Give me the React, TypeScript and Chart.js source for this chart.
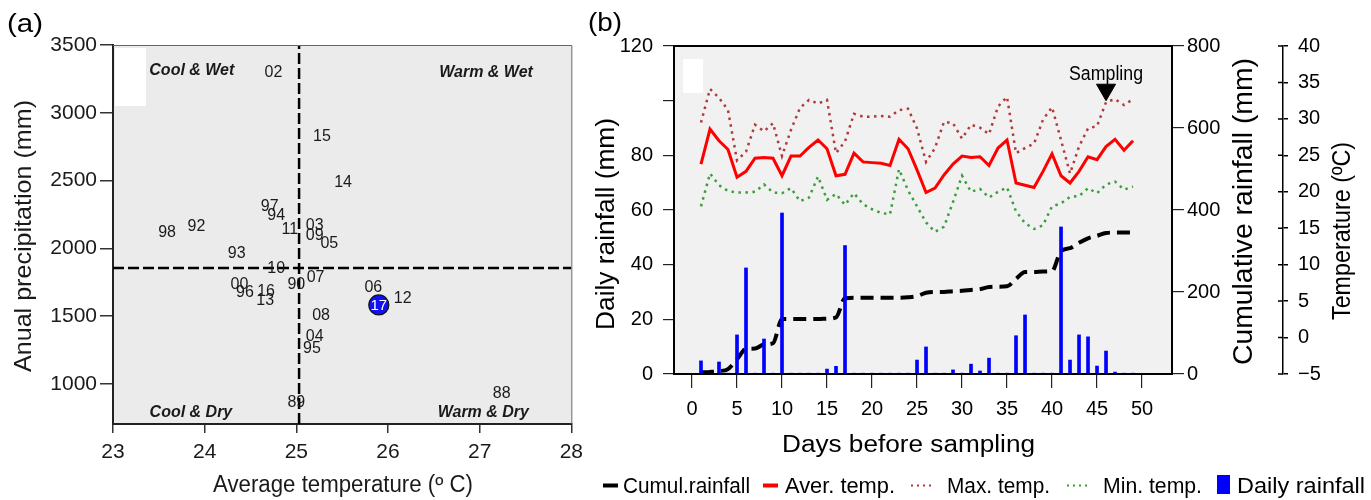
import React, { useEffect, useRef } from 'react';
import { Chart, registerables } from 'chart.js';

Chart.register(...registerables);

const FONT = "'Liberation Sans', Arial, Helvetica, sans-serif";
Chart.defaults.font.family = FONT;

// ---------------- Panel (a) data ----------------
const yearLabels = ['02', '15', '14', '97', '94', '98', '92', '11', '03', '09', '05', '93', '10', '07', '00', '96', '16', '13', '90', '06', '12', '08', '04', '95', '89', '88'];
const yearTemps = [24.75, 25.28, 25.51, 24.71, 24.78, 23.59, 23.91, 24.93, 25.2, 25.2, 25.36, 24.35, 24.78, 25.21, 24.38, 24.44, 24.67, 24.66, 25.0, 25.84, 26.16, 25.27, 25.2, 25.17, 25.0, 27.24];
const yearPrecip = [3293, 2822, 2482, 2305, 2239, 2113, 2158, 2136, 2165, 2091, 2032, 1959, 1848, 1782, 1730, 1671, 1678, 1612, 1730, 1708, 1627, 1501, 1347, 1258, 860, 926];
const highlightLabel = ['17'];
const highlightTemp = [25.9];
const highlightPrecip = [1583];
const splitTemp = 25.03;
const splitPrecip = 1855;
const quadrantNames = ['Cool & Wet', 'Warm & Wet', 'Cool & Dry', 'Warm & Dry'];
const quadrantTemps = [23.86, 27.07, 23.85, 27.04];
const quadrantPrecip = [3310, 3300, 790, 790];
const tempTicksA = [23, 24, 25, 26, 27, 28];
const precipTicksA = [1000, 1500, 2000, 2500, 3000, 3500];
const tempRangeA = [23, 28];
const precipRangeA = [705, 3500];

// ---------------- Panel (b) data ----------------
const days = [1, 2, 3, 4, 5, 6, 7, 8, 9, 10, 11, 12, 13, 14, 15, 16, 17, 18, 19, 20, 21, 22, 23, 24, 25, 26, 27, 28, 29, 30, 31, 32, 33, 34, 35, 36, 37, 38, 39, 40, 41, 42, 43, 44, 45, 46, 47, 48, 49];
const avgTemp = [23.8, 28.6, 27.0, 25.8, 22.0, 22.8, 24.6, 24.7, 24.6, 22.2, 24.9, 24.9, 26.1, 27.1, 25.9, 22.2, 22.4, 25.3, 24.1, 24.0, 23.9, 23.6, 27.2, 25.9, 23.0, 19.9, 20.5, 22.3, 23.8, 24.9, 24.7, 24.8, 23.6, 26.0, 27.1, 21.2, 20.9, 20.6, 22.8, 25.2, 22.2, 21.2, 22.8, 24.8, 24.4, 26.2, 27.2, 25.7, 27.0];
const maxTemp = [29.5, 34.1, 32.9, 31.2, 24.3, 25.5, 29.2, 28.3, 29.4, 24.9, 28.5, 31.5, 32.6, 32.1, 32.6, 25.3, 26.9, 30.7, 30.3, 30.3, 30.4, 30.3, 31.2, 31.4, 28.7, 24.1, 26.0, 29.6, 29.4, 27.3, 29.2, 28.8, 27.9, 31.7, 33.0, 25.3, 26.0, 26.6, 29.9, 31.6, 27.1, 22.5, 26.2, 28.7, 29.0, 32.3, 32.7, 31.9, 32.7];
const minTemp = [18.0, 22.5, 20.9, 20.1, 19.9, 19.9, 20.0, 21.0, 19.9, 19.8, 20.5, 18.7, 19.2, 22.1, 18.9, 19.7, 18.2, 19.8, 18.3, 17.6, 17.1, 16.9, 23.1, 20.2, 18.0, 15.8, 14.5, 15.2, 18.6, 22.2, 20.0, 20.4, 19.2, 20.0, 20.6, 17.3, 15.7, 14.9, 15.4, 18.0, 18.4, 19.3, 19.4, 20.5, 19.8, 21.0, 21.4, 20.3, 20.7];
const cumRain = [4, 5, 7, 12, 36, 61, 62, 72, 75, 134, 134, 134, 134, 134, 135, 138, 185, 186, 186, 186, 186, 186, 186, 187, 190, 198, 200, 200, 202, 203, 205, 207, 212, 213, 214, 232, 249, 249, 250, 251, 300, 307, 320, 331, 337, 344, 345, 345, 345];
const rainMm = [4.8, 0.3, 4.4, 0.3, 14.3, 38.8, 0.3, 12.8, 0.3, 58.9, 0.3, 0.3, 0.3, 0.3, 1.8, 2.8, 47, 0.3, 0.3, 0.3, 0.3, 0.3, 0.3, 0.3, 5.1, 9.9, 0.3, 0.3, 1.5, 0.3, 3.6, 1.1, 5.8, 0.3, 0.3, 14, 21.6, 0.3, 0.3, 0.3, 53.8, 5.1, 14.3, 13.6, 2.9, 8.4, 0.7, 0.3, 0.3];
const dayTicks = [0, 5, 10, 15, 20, 25, 30, 35, 40, 45, 50];
const dayRange = [-2, 53.33];
const rainTicks = [0, 20, 40, 60, 80, 100, 120];
const hiddenRainTick = 100;
const cumTicks = [0, 200, 400, 600, 800];
const tempTicksB = [-5, 0, 5, 10, 15, 20, 25, 30, 35, 40];
const samplingDay = [46];
const samplingMark = [104];
const legendOrder = ['Cumul.rainfall', 'Aver. temp.', 'Max. temp.', 'Min. temp.', 'Daily rainfall'];

type TextOpts = {
  size: number; weight?: string; style?: string; color?: string; width?: number;
  rotate?: number; align?: CanvasTextAlign; baseline?: CanvasTextBaseline;
};

function drawText(ctx: CanvasRenderingContext2D, text: string, x: number, y: number, o: TextOpts) {
  ctx.save();
  ctx.font = `${o.style ?? 'normal'} ${o.weight ?? 'normal'} ${o.size}px ${FONT}`;
  ctx.fillStyle = o.color ?? '#000';
  ctx.textAlign = o.align ?? 'center';
  ctx.textBaseline = o.baseline ?? 'middle';
  ctx.translate(x, y);
  if (o.rotate) ctx.rotate(o.rotate);
  if (o.width) {
    const w = ctx.measureText(text).width;
    if (w > 0) ctx.scale(o.width / w, 1);
  }
  ctx.fillText(text, 0, 0);
  ctx.restore();
}

const setTicks = (vals: number[]) => (scale: any) => {
  scale.ticks = vals.map((v) => ({ value: v }));
};

const fmt = (v: any) => (Number(v) < 0 ? '\u2212' + String(Math.abs(Number(v))) : String(v));

// ---------------- Panel (a) plugin ----------------
const panelAPlugin = {
  id: 'panelA',
  beforeDraw(chart: any) {
    const { ctx, chartArea: ca } = chart;
    ctx.save();
    ctx.fillStyle = '#ebebeb';
    ctx.fillRect(ca.left, ca.top, ca.right - ca.left, ca.bottom - ca.top);
    ctx.fillStyle = '#ffffff';
    ctx.fillRect(ca.left + 2, ca.top + 3, 31, 58);
    ctx.restore();
  },
  afterDatasetsDraw(chart: any) {
    const ctx = chart.ctx;
    chart.getDatasetMeta(0).data.forEach((pt: any, i: number) => {
      drawText(ctx, yearLabels[i], pt.x, pt.y, { size: 16, color: '#1a1a1a' });
    });
    chart.getDatasetMeta(1).data.forEach((pt: any, i: number) => {
      drawText(ctx, highlightLabel[i], pt.x, pt.y + 0.5, { size: 15, color: '#ffffff' });
    });
    const xs = chart.scales.x;
    const ys = chart.scales.y;
    quadrantNames.forEach((q, i) => {
      drawText(ctx, q, xs.getPixelForValue(quadrantTemps[i]), ys.getPixelForValue(quadrantPrecip[i]), {
        size: 16, weight: 'bold', style: 'italic', color: '#1a1a1a',
      });
    });
  },
  afterDraw(chart: any) {
    const { ctx, chartArea: ca } = chart;
    ctx.save();
    ctx.strokeStyle = '#666';
    ctx.lineWidth = 1;
    ctx.beginPath();
    ctx.moveTo(ca.left, ca.top + 0.5);
    ctx.lineTo(ca.right + 0.5, ca.top + 0.5);
    ctx.lineTo(ca.right + 0.5, ca.bottom);
    ctx.stroke();
    ctx.restore();
    drawText(ctx, 'Anual precipitation (mm)', 24, 236, { size: 24, rotate: -Math.PI / 2, width: 272, color: '#1a1a1a' });
    drawText(ctx, 'Average temperature (º C)', 343, 492, { size: 23, baseline: 'alphabetic', width: 260, color: '#1a1a1a' });
    drawText(ctx, '(a)', 7, 31.5, { size: 26, baseline: 'alphabetic', align: 'left', width: 36, color: '#000' });
  },
};

// ---------------- Panel (b) plugin ----------------
const legendSlots = [
  { sx: 23, sw: 15, tx: 43, tw: 127 },
  { sx: 183, sw: 15, tx: 205, tw: 110 },
  { sx: 331, sw: 23, tx: 367, tw: 103 },
  { sx: 487, sw: 23, tx: 523, tw: 99 },
  { sx: 637, sw: 13, tx: 657, tw: 128 },
];

const panelBPlugin = {
  id: 'panelB',
  beforeDraw(chart: any) {
    const { ctx, chartArea: ca } = chart;
    ctx.save();
    ctx.fillStyle = '#f1f1f1';
    ctx.fillRect(ca.left, ca.top, ca.right - ca.left, ca.bottom - ca.top);
    ctx.fillStyle = '#ffffff';
    ctx.fillRect(ca.left + 9, ca.top + 13, 20, 34);
    ctx.restore();
  },
  afterDraw(chart: any) {
    const { ctx, chartArea: ca } = chart;
    ctx.save();
    ctx.strokeStyle = '#000';
    ctx.lineWidth = 2;
    ctx.strokeRect(ca.left, ca.top, ca.right - ca.left, ca.bottom - ca.top);
    // crossing ticks on the temperature axis
    const ts = chart.scales.yTemp;
    ctx.lineWidth = 1.5;
    ctx.beginPath();
    ts.ticks.forEach((t: any) => {
      const py = ts.getPixelForValue(t.value);
      ctx.moveTo(ts.left - 5, py);
      ctx.lineTo(ts.left, py);
    });
    ctx.stroke();
    ctx.restore();

    const cs = chart.scales.yCum;
    drawText(ctx, 'Daily rainfall (mm)', 27, 224, { size: 26, rotate: -Math.PI / 2, width: 212 });
    drawText(ctx, 'Cumulative rainfall (mm)', cs.left + 72.5, 211.5, { size: 27, rotate: -Math.PI / 2, width: 307 });
    drawText(ctx, 'Temperature (ºC)', ts.left + 60.5, 231, { size: 25, rotate: -Math.PI / 2, width: 178 });
    drawText(ctx, 'Days before sampling', 328.5, 452, { size: 23, baseline: 'alphabetic', width: 253 });
    drawText(ctx, '(b)', 8, 31, { size: 26, baseline: 'alphabetic', align: 'left', width: 34 });

    // sampling label above marker
    const mk = chart.getDatasetMeta(0).data[0];
    if (mk) drawText(ctx, 'Sampling', mk.x, mk.y - 9.5, { size: 20, baseline: 'alphabetic', width: 74 });

    // legend
    const ly = 485.5;
    legendOrder.forEach((label, i) => {
      const ds: any = chart.data.datasets.find((d: any) => d.label === label);
      const slot = legendSlots[i];
      if (!ds) return;
      ctx.save();
      if (ds.type === 'bar') {
        ctx.fillStyle = ds.backgroundColor;
        ctx.fillRect(slot.sx, 475, slot.sw, 19);
      } else {
        const dotted = Array.isArray(ds.borderDash) && ds.borderDash.length > 0 && ds.borderDash[0] < 5;
        ctx.strokeStyle = ds.borderColor;
        ctx.lineWidth = dotted ? 2 : 4;
        ctx.setLineDash(dotted ? [2, 4] : []);
        ctx.beginPath();
        ctx.moveTo(slot.sx, ly);
        ctx.lineTo(slot.sx + slot.sw, ly);
        ctx.stroke();
      }
      ctx.restore();
      drawText(ctx, label, slot.tx, 492.5, { size: 22, baseline: 'alphabetic', align: 'left', width: slot.tw });
    });
  },
};

function makeChartA(canvas: HTMLCanvasElement) {
  return new Chart(canvas, {
    type: 'scatter',
    data: {
      datasets: [
        {
          label: 'Years',
          data: yearTemps.map((t, i) => ({ x: t, y: yearPrecip[i] })),
          pointRadius: 0,
          pointHoverRadius: 0,
        },
        {
          label: 'Sampling year',
          data: highlightTemp.map((t, i) => ({ x: t, y: highlightPrecip[i] })),
          pointRadius: 10,
          backgroundColor: '#1010f0',
          borderColor: '#111',
          borderWidth: 1.2,
        },
        {
          label: 'Temperature split',
          data: [{ x: splitTemp, y: precipRangeA[0] }, { x: splitTemp, y: precipRangeA[1] }],
          showLine: true,
          pointRadius: 0,
          borderColor: '#000',
          borderWidth: 2.5,
          borderDash: [11, 4],
        },
        {
          label: 'Precipitation split',
          data: [{ x: tempRangeA[0], y: splitPrecip }, { x: tempRangeA[1], y: splitPrecip }],
          showLine: true,
          pointRadius: 0,
          borderColor: '#000',
          borderWidth: 2.5,
          borderDash: [11, 4],
        },
      ],
    },
    options: {
      responsive: false,
      animation: false,
      events: [],
      layout: { padding: { top: 45, right: 16, left: 0, bottom: 0 } },
      plugins: { legend: { display: false }, tooltip: { enabled: false } },
      scales: {
        x: {
          type: 'linear',
          min: tempRangeA[0],
          max: tempRangeA[1],
          afterBuildTicks: setTicks(tempTicksA),
          afterFit: (s: any) => { s.height = 76; },
          grid: { drawOnChartArea: false, drawTicks: true, tickLength: 9, color: '#333', lineWidth: 1.5 },
          border: { display: true, color: '#222', width: 2 },
          ticks: { padding: 7, font: { size: 21 }, color: '#1a1a1a', maxRotation: 0, autoSkip: false, callback: fmt },
        },
        y: {
          type: 'linear',
          min: precipRangeA[0],
          max: precipRangeA[1],
          afterBuildTicks: setTicks(precipTicksA),
          afterFit: (s: any) => { s.width = 113; },
          grid: { drawOnChartArea: false, drawTicks: true, tickLength: 13, color: '#333', lineWidth: 1.5 },
          border: { display: true, color: '#222', width: 2 },
          ticks: { padding: 3, font: { size: 21 }, color: '#1a1a1a', autoSkip: false, callback: fmt },
        },
      },
    } as any,
    plugins: [panelAPlugin],
  });
}

function makeChartB(canvas: HTMLCanvasElement) {
  return new Chart(canvas, {
    type: 'bar',
    data: {
      datasets: [
        {
          type: 'line',
          label: 'Sampling',
          data: samplingDay.map((d, i) => ({ x: d, y: samplingMark[i] })),
          yAxisID: 'yRain',
          showLine: false,
          pointStyle: 'triangle',
          pointRotation: 180,
          pointRadius: 11,
          pointBackgroundColor: '#000',
          pointBorderColor: '#000',
          borderColor: '#000',
        },
        {
          type: 'bar',
          label: 'Daily rainfall',
          data: days.map((d, i) => ({ x: d, y: rainMm[i] })),
          yAxisID: 'yRain',
          backgroundColor: '#0000ff',
          barThickness: 3,
        },
        {
          type: 'line',
          label: 'Cumul.rainfall',
          data: days.map((d, i) => ({ x: d, y: cumRain[i] })),
          yAxisID: 'yCum',
          borderColor: '#000',
          borderWidth: 4,
          borderDash: [13, 7],
          pointRadius: 0,
          cubicInterpolationMode: 'monotone',
        },
        {
          type: 'line',
          label: 'Aver. temp.',
          data: days.map((d, i) => ({ x: d, y: avgTemp[i] })),
          yAxisID: 'yTemp',
          borderColor: '#ff0000',
          borderWidth: 3,
          pointRadius: 0,
        },
        {
          type: 'line',
          label: 'Max. temp.',
          data: days.map((d, i) => ({ x: d, y: maxTemp[i] })),
          yAxisID: 'yTemp',
          borderColor: '#b03a3a',
          borderWidth: 2.5,
          borderDash: [2.5, 4.5],
          pointRadius: 0,
        },
        {
          type: 'line',
          label: 'Min. temp.',
          data: days.map((d, i) => ({ x: d, y: minTemp[i] })),
          yAxisID: 'yTemp',
          borderColor: '#3a9e3a',
          borderWidth: 2.5,
          borderDash: [2.5, 4.5],
          pointRadius: 0,
        },
      ],
    },
    options: {
      responsive: false,
      animation: false,
      events: [],
      layout: { padding: { top: 46, right: 0, left: 0, bottom: 0 } },
      plugins: { legend: { display: false }, tooltip: { enabled: false } },
      scales: {
        x: {
          type: 'linear',
          min: dayRange[0],
          max: dayRange[1],
          offset: false,
          afterBuildTicks: setTicks(dayTicks),
          afterFit: (s: any) => { s.height = 126; },
          grid: { offset: false, drawOnChartArea: false, drawTicks: true, tickLength: 14, color: '#222', lineWidth: 1.2 },
          border: { display: false },
          ticks: { padding: 9, font: { size: 20 }, color: '#000', maxRotation: 0, autoSkip: false, callback: fmt },
        },
        yRain: {
          type: 'linear',
          position: 'left',
          min: 0,
          max: 120,
          afterBuildTicks: setTicks(rainTicks),
          afterFit: (s: any) => { s.width = 94; },
          grid: { drawOnChartArea: false, drawTicks: true, tickLength: 11, color: '#222', lineWidth: 1.2 },
          border: { display: false },
          ticks: { padding: 10, font: { size: 20 }, color: '#000', autoSkip: false, callback: (v: any) => (v === hiddenRainTick ? '' : fmt(v)) },
        },
        yCum: {
          type: 'linear',
          position: 'right',
          weight: 0,
          min: 0,
          max: 800,
          afterBuildTicks: setTicks(cumTicks),
          afterFit: (s: any) => { s.width = 111; },
          grid: { drawOnChartArea: false, drawTicks: true, tickLength: 12, color: '#222', lineWidth: 1.2 },
          border: { display: false },
          ticks: { padding: 3, font: { size: 20 }, color: '#000', autoSkip: false, callback: fmt },
        },
        yTemp: {
          type: 'linear',
          position: 'right',
          weight: 1,
          min: -5,
          max: 40,
          afterBuildTicks: setTicks(tempTicksB),
          afterFit: (s: any) => { s.width = 88; },
          grid: { drawOnChartArea: false, drawTicks: true, tickLength: 5, color: '#000', lineWidth: 1.5 },
          border: { display: true, color: '#000', width: 1.5 },
          ticks: { padding: 10, font: { size: 20 }, color: '#000', autoSkip: false, callback: fmt },
        },
      },
    } as any,
    plugins: [panelBPlugin],
  });
}

export default function App() {
  const refA = useRef<HTMLCanvasElement>(null);
  const refB = useRef<HTMLCanvasElement>(null);

  useEffect(() => {
    const a = refA.current ? makeChartA(refA.current) : null;
    const b = refB.current ? makeChartB(refB.current) : null;
    return () => {
      a?.destroy();
      b?.destroy();
    };
  }, []);

  return (
    <div style={{ position: 'absolute', left: 0, top: 0, width: 1371, height: 500, background: '#fff', overflow: 'hidden' }}>
      <canvas ref={refA} width={590} height={500} style={{ position: 'absolute', left: 0, top: 0, width: 590, height: 500 }} />
      <canvas ref={refB} width={791} height={500} style={{ position: 'absolute', left: 580, top: 0, width: 791, height: 500 }} />
    </div>
  );
}
